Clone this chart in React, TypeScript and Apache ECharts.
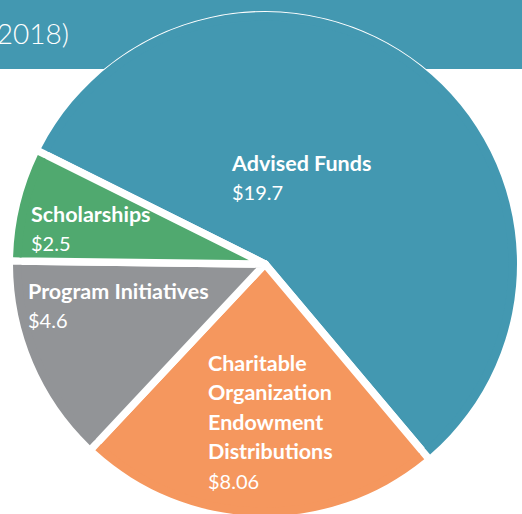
import React, { useEffect, useRef } from "react";
import * as echarts from "echarts";

// ---- data ----
const categories = [
  "Advised Funds",
  "Charitable\nOrganization\nEndowment\nDistributions",
  "Program Initiatives",
  "Scholarships",
];
const values = [19.7, 8.06, 4.6, 2.5];
const valueLabels = ["$19.7", "$8.06", "$4.6", "$2.5"];
const headerText = "2018)";

// ---- styling / layout ----
const colors = ["#4398b1", "#f5975e", "#929497", "#50a96f"];
const labelTopLeft: [number, number][] = [
  [232, 148],
  [208, 348],
  [28, 276],
  [31, 199],
];
const CX = 265;
const CY = 264;
const R = 252;
const GAP = 7.5;
const START = 153.5;

export default function App() {
  const ref = useRef<HTMLDivElement>(null);
  useEffect(() => {
    document.body.style.margin = "0";
    if (!ref.current) return;
    const chart = echarts.init(ref.current, undefined, { renderer: "svg" });
    const data = categories.map((name, i) => ({
      name,
      value: values[i],
      itemStyle: { color: colors[i] },
    }));
    const half = GAP / 2;
    const padDeg = ((GAP / (R - half)) * 180) / Math.PI;
    chart.setOption({
      animation: false,
      graphic: [
        {
          type: "rect",
          shape: { x: 0, y: 0, width: 522, height: 69 },
          style: { fill: colors[0] },
          z: 0,
        },
        {
          type: "text",
          x: 69,
          y: 33,
          style: {
            text: headerText,
            fill: "#ffffff",
            font: "300 28px Lato, 'Open Sans', sans-serif",
            textAlign: "right",
            textVerticalAlign: "middle",
          },
          z: 1,
        },
      ],
      series: [
        {
          type: "pie",
          center: [CX, CY],
          radius: [0, R + 1 - half],
          startAngle: START,
          clockwise: true,
          avoidLabelOverlap: false,
          itemStyle: { borderColor: "#ffffff", borderWidth: GAP },
          emphasis: { disabled: true },
          label: {
            show: true,
            position: "inside",
            color: "#ffffff",
            formatter: (p: any) => {
              const nameLines = String(p.name)
                .split("\n")
                .map((l: string) => `{n|${l}}`)
                .join("\n");
              return `${nameLines}\n{v|${valueLabels[p.dataIndex]}}`;
            },
            rich: {
              n: {
                fontFamily: "Lato, 'Open Sans', sans-serif",
                fontWeight: "bold",
                fontSize: 21.5,
                lineHeight: 29.5,
                color: "#ffffff",
              },
              v: {
                fontFamily: "Lato, 'Open Sans', sans-serif",
                fontWeight: "normal",
                fontSize: 20,
                lineHeight: 29.5,
                color: "#ffffff",
              },
            },
          },
          labelLine: { show: false },
          labelLayout: (p: any) => ({
            x: labelTopLeft[p.dataIndex][0],
            y: labelTopLeft[p.dataIndex][1],
            align: "left",
            verticalAlign: "top",
          }),
          data,
        },
        {
          type: "pie",
          center: [CX, CY],
          radius: [R - GAP - 1, R],
          startAngle: START,
          clockwise: true,
          padAngle: padDeg,
          silent: true,
          emphasis: { disabled: true },
          label: { show: false },
          labelLine: { show: false },
          itemStyle: { borderWidth: 0 },
          data,
        },
      ],
    });
    return () => chart.dispose();
  }, []);
  return <div ref={ref} style={{ width: 522, height: 514 }} />;
}
